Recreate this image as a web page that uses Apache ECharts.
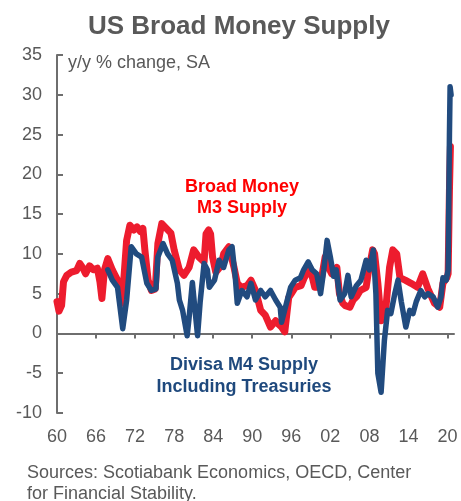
<!DOCTYPE html>
<html>
<head>
<meta charset="utf-8">
<script src="https://cdn.jsdelivr.net/npm/echarts@6/dist/echarts.min.js"></script>
<style>
  html, body, #main {
    width: 100%;
    height: 100%;
    margin: 0;
    background: #fff;
  }
</style>
</head>
<body>
<div id="main"></div>
<script>
// values, y/y % change
var m3Years = [1960.0, 1960.3, 1960.7, 1961.0, 1961.5, 1962.2, 1963.0, 1963.5, 1964.0, 1964.4, 1965.0, 1965.6, 1966.2, 1966.6, 1966.9, 1967.3, 1967.8, 1968.5, 1969.3, 1970.0, 1970.7, 1971.2, 1971.8, 1972.3, 1972.8, 1973.2, 1973.5, 1974.0, 1974.5, 1975.1, 1975.5, 1976.1, 1976.8, 1977.5, 1978.0, 1978.8, 1979.5, 1980.3, 1981.0, 1981.8, 1982.6, 1982.9, 1983.3, 1983.6, 1983.9, 1984.4, 1985.2, 1985.6, 1986.4, 1987.2, 1987.7, 1988.3, 1989.2, 1989.8, 1990.5, 1991.3, 1992.0, 1992.8, 1993.6, 1994.0, 1994.5, 1995.0, 1995.6, 1996.0, 1996.6, 1997.5, 1998.0, 1998.9, 1999.6, 2000.2, 2000.6, 2001.2, 2001.6, 2002.2, 2003.0, 2003.4, 2003.9, 2004.3, 2005.0, 2005.5, 2006.0, 2006.6, 2007.5, 2007.8, 2008.5, 2008.8, 2009.3, 2009.8, 2010.1, 2010.5, 2011.1, 2011.6, 2012.2, 2012.7, 2013.5, 2014.4, 2015.4, 2016.2, 2016.5, 2017.0, 2018.0, 2018.8, 2019.3, 2019.9, 2020.1, 2020.3, 2020.45]
var m3Values = [4.0, 2.8, 3.5, 6.5, 7.3, 7.7, 7.9, 8.8, 8.2, 7.5, 8.5, 8.0, 8.2, 6.5, 4.4, 8.0, 9.4, 8.0, 6.7, 3.8, 11.7, 13.6, 13.0, 13.4, 12.8, 13.2, 10.5, 6.7, 5.4, 5.6, 11.3, 13.8, 13.2, 12.6, 10.5, 8.0, 7.3, 8.3, 10.5, 9.6, 9.0, 12.5, 13.0, 12.5, 9.6, 7.7, 8.5, 10.0, 10.9, 8.3, 6.3, 5.8, 6.0, 6.7, 5.4, 2.9, 2.3, 0.8, 1.6, 1.2, 0.8, 0.2, 4.5, 5.0, 5.8, 6.0, 7.0, 8.2, 5.8, 5.8, 6.7, 9.6, 8.5, 7.5, 8.3, 5.0, 3.8, 3.5, 3.3, 4.2, 4.6, 5.4, 5.8, 7.5, 10.5, 10.0, 6.3, 1.6, 1.6, 2.9, 8.3, 10.5, 10.0, 7.0, 6.7, 6.3, 5.8, 7.5, 7.5, 5.6, 3.8, 3.3, 6.3, 7.0, 7.5, 18.0, 23.5]

var m4Years = [1967.8, 1968.5, 1969.3, 1970.1, 1970.7, 1971.4, 1972.2, 1973.0, 1973.8, 1974.5, 1975.2, 1975.5, 1976.3, 1977.0, 1977.7, 1978.5, 1978.8, 1979.3, 1980.0, 1980.3, 1980.8, 1981.2, 1981.6, 1982.0, 1982.6, 1983.1, 1983.4, 1984.2, 1984.9, 1985.6, 1986.4, 1986.9, 1987.4, 1987.7, 1988.4, 1989.2, 1989.8, 1990.5, 1991.3, 1992.0, 1992.8, 1993.6, 1994.3, 1994.5, 1995.0, 1995.9, 1996.6, 1997.4, 1997.9, 1998.6, 1999.2, 1999.9, 2000.5, 2001.0, 2001.5, 2002.0, 2002.5, 2002.9, 2003.5, 2004.2, 2004.7, 2005.2, 2006.0, 2006.7, 2007.5, 2008.0, 2008.6, 2009.0, 2009.3, 2009.8, 2010.3, 2010.8, 2011.3, 2011.9, 2012.4, 2012.9, 2013.6, 2014.2, 2014.7, 2015.2, 2015.9, 2016.5, 2017.0, 2017.8, 2018.5, 2019.0, 2019.3, 2019.8, 2020.1, 2020.3, 2020.4, 2020.55]
var m4Values = [8.0, 6.7, 5.8, 0.6, 4.2, 10.9, 10.0, 9.6, 6.3, 5.4, 5.6, 9.6, 11.3, 10.0, 9.2, 6.3, 4.2, 2.9, -0.3, 2.0, 6.4, 3.0, -0.3, 4.0, 8.8, 8.0, 5.8, 6.7, 9.2, 8.3, 10.5, 10.9, 7.0, 3.8, 5.4, 4.6, 6.3, 4.2, 5.4, 4.6, 5.4, 4.2, 3.3, 1.4, 3.0, 5.8, 6.7, 7.0, 8.0, 9.0, 8.0, 7.5, 5.0, 8.0, 11.7, 9.6, 7.2, 8.0, 4.2, 5.0, 7.3, 4.6, 6.0, 6.7, 9.2, 8.0, 10.5, 5.0, -5.0, -7.4, -0.9, 2.9, 2.5, 5.0, 6.7, 4.0, 0.8, 2.9, 2.5, 4.0, 5.4, 4.6, 5.0, 4.6, 3.3, 4.6, 7.0, 6.7, 8.0, 25.0, 31.0, 30.0]

var yearTicks = [1960, 1966, 1972, 1978, 1984, 1990, 1996, 2002, 2008, 2014, 2020]

var grey = '#595959'
var font = '"Liberation Sans", Arial, sans-serif'

var chart = echarts.init(document.getElementById('main'))

var pairs = function (xs, ys) {
  return xs.map(function (x, i) { return [x, ys[i]] })
}

var option = {
  animation: false,
  title: {
    text: 'US Broad Money Supply',
    left: 83,
    top: 9,
    textStyle: { color: grey, fontSize: 26, fontWeight: 'bold', fontFamily: font }
  },
  grid: { left: 57, right: 7, top: 55, bottom: 88 },
  xAxis: [{
    type: 'value',
    min: 1960,
    max: 2021,
    axisLine: { onZero: true, lineStyle: { color: '#6e6e6e', width: 2 } },
    axisTick: { customValues: yearTicks, length: 5, lineStyle: { color: '#6e6e6e', width: 2 } },
    axisLabel: { show: false },
    splitLine: { show: false }
  }, {
    type: 'value',
    position: 'bottom',
    min: 1960,
    max: 2021,
    axisLine: { show: false, onZero: false },
    axisTick: { show: false },
    axisLabel: {
      customValues: yearTicks,
      margin: 15,
      color: grey,
      fontSize: 18,
      fontFamily: font,
      formatter: function (v) { return String(v).slice(2) }
    },
    splitLine: { show: false }
  }],
  yAxis: {
    type: 'value',
    min: -10,
    max: 35,
    interval: 5,
    axisLine: { show: true, lineStyle: { color: '#6e6e6e', width: 2 } },
    axisTick: { show: true, inside: true, length: 6, lineStyle: { color: '#6e6e6e', width: 2 } },
    axisLabel: { margin: 15, color: grey, fontSize: 18, fontFamily: font },
    splitLine: { show: false }
  },
  series: [{
    name: 'Broad Money M3 Supply',
    type: 'line',
    xAxisIndex: 0,
    showSymbol: false,
    data: pairs(m3Years, m3Values),
    lineStyle: { color: '#ED1C2E', width: 7, cap: 'round', join: 'round' },
    z: 2
  }, {
    name: 'Divisa M4 Supply Including Treasuries',
    type: 'line',
    xAxisIndex: 0,
    showSymbol: false,
    data: pairs(m4Years, m4Values),
    lineStyle: { color: '#214B7F', width: 5.5, cap: 'round', join: 'round' },
    z: 3
  }],
  graphic: [
    { type: 'text', x: 68, y: 54,
      style: { text: 'y/y % change, SA', fill: grey, font: '18px ' + font } },
    { type: 'text', x: 242, y: 177,
      style: { text: 'Broad Money\nM3 Supply', align: 'center', verticalAlign: 'top', lineHeight: 21, fill: '#FF0000', font: 'bold 18px ' + font } },
    { type: 'text', x: 244, y: 354,
      style: { text: 'Divisa M4 Supply\nIncluding Treasuries', align: 'center', verticalAlign: 'top', lineHeight: 22, fill: '#1F497D', font: 'bold 18px ' + font } },
    { type: 'text', x: 27, y: 463,
      style: { text: 'Sources: Scotiabank Economics, OECD, Center\nfor Financial Stability.', lineHeight: 21, fill: grey, font: '18px ' + font } }
  ]
}

chart.setOption(option)
</script>
</body>
</html>
